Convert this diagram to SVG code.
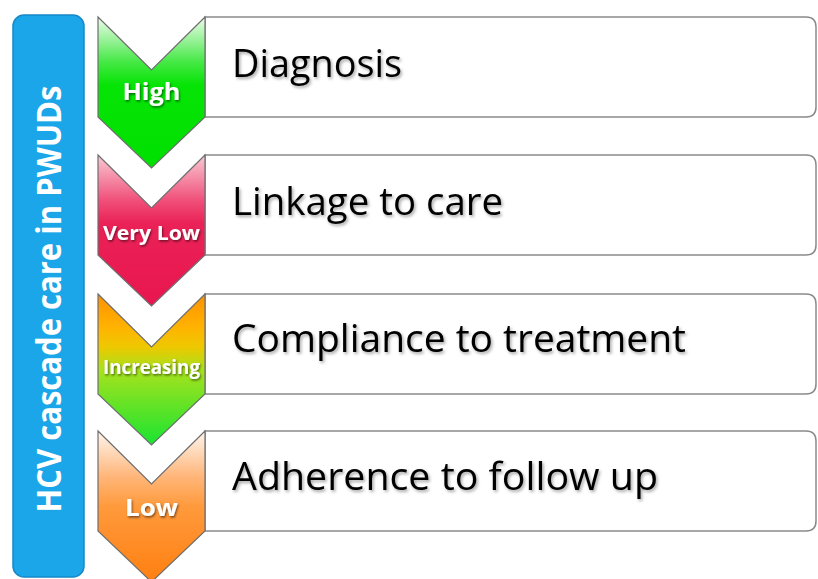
<svg xmlns="http://www.w3.org/2000/svg" width="818" height="579" viewBox="0 0 818 579">
  <defs>
    <linearGradient id="gGreen" x1="0" y1="0" x2="0" y2="1">
      <stop offset="0" stop-color="#eefcee"/>
      <stop offset="0.3" stop-color="#44e844"/>
      <stop offset="0.45" stop-color="#06e406"/>
      <stop offset="1" stop-color="#00e000"/>
    </linearGradient>
    <linearGradient id="gPink" x1="0" y1="0" x2="0" y2="1">
      <stop offset="0" stop-color="#f9cad4"/>
      <stop offset="0.3" stop-color="#f0507a"/>
      <stop offset="0.45" stop-color="#ea2257"/>
      <stop offset="1" stop-color="#e8164e"/>
    </linearGradient>
    <linearGradient id="gInc" x1="0" y1="0" x2="0" y2="1">
      <stop offset="0" stop-color="#ff9000"/>
      <stop offset="0.22" stop-color="#ffb300"/>
      <stop offset="0.35" stop-color="#eec800"/>
      <stop offset="0.5" stop-color="#a8e21c"/>
      <stop offset="1" stop-color="#18e432"/>
    </linearGradient>
    <linearGradient id="gOrange" x1="0" y1="0" x2="0" y2="1">
      <stop offset="0" stop-color="#fff6ee"/>
      <stop offset="0.3" stop-color="#ffb67a"/>
      <stop offset="0.5" stop-color="#ff9a3c"/>
      <stop offset="1" stop-color="#ff7f10"/>
    </linearGradient>
    <filter id="txtShadow" x="-10%" y="-30%" width="120%" height="160%">
      <feDropShadow dx="1.5" dy="2" stdDeviation="1.5" flood-color="#000" flood-opacity="0.35"/>
    </filter>
    <filter id="lblShadow" x="-10%" y="-30%" width="120%" height="160%">
      <feDropShadow dx="1" dy="1.5" stdDeviation="1.2" flood-color="#000" flood-opacity="0.55"/>
    </filter>
    <path id="chev" d="M98,0 L151.5,53 L205,0 L205,100 L151.5,151 L98,100 Z"/>
  </defs>
  <style>
    .box { fill: #ffffff; stroke: #8a8a8a; stroke-width: 1.5; }
    .chev { stroke: #6e6e6e; stroke-width: 1.2; stroke-linejoin: miter; }
    .step { font-family: "Open Sans", "Liberation Sans", sans-serif; font-size: 38px; fill: #000; filter: url(#txtShadow); }
    .lbl { font-family: "Open Sans", "Liberation Sans", sans-serif; font-weight: bold; fill: #fff; text-anchor: middle; filter: url(#lblShadow); }
    .side { font-family: "Open Sans", "Liberation Sans", sans-serif; font-weight: bold; font-size: 34px; fill: #fff; text-anchor: middle; }
  </style>

  <rect width="818" height="579" fill="#ffffff"/>

  <!-- vertical title bar -->
  <g id="title">
    <rect x="13" y="15" width="71" height="562" rx="11" ry="11" fill="#1aa6e8" stroke="#1689c9" stroke-width="1.5"/>
    <text class="side" transform="translate(61,299) rotate(-90)" textLength="427" lengthAdjust="spacingAndGlyphs">HCV cascade care in PWUDs</text>
  </g>

  <!-- step 1 -->
  <g id="step-diagnosis">
    <path class="box" d="M205,17 H806 Q816,17 816,27 V107 Q816,117 806,117 H205 Z"/>
    <use href="#chev" class="chev" fill="url(#gGreen)" transform="translate(0,17)"/>
    <text class="lbl" x="151.5" y="100" font-size="24" textLength="58" lengthAdjust="spacingAndGlyphs">High</text>
    <text class="step" x="232" y="77" textLength="170" lengthAdjust="spacingAndGlyphs">Diagnosis</text>
  </g>

  <!-- step 2 -->
  <g id="step-linkage">
    <path class="box" d="M205,155 H806 Q816,155 816,165 V245 Q816,255 806,255 H205 Z"/>
    <use href="#chev" class="chev" fill="url(#gPink)" transform="translate(0,155)"/>
    <text class="lbl" x="151.5" y="240" font-size="20" textLength="97" lengthAdjust="spacingAndGlyphs">Very Low</text>
    <text class="step" x="232" y="215" textLength="271" lengthAdjust="spacingAndGlyphs">Linkage to care</text>
  </g>

  <!-- step 3 -->
  <g id="step-compliance">
    <path class="box" d="M205,294 H806 Q816,294 816,304 V384 Q816,394 806,394 H205 Z"/>
    <use href="#chev" class="chev" fill="url(#gInc)" transform="translate(0,294)"/>
    <text class="lbl" x="151.5" y="374" font-size="19" textLength="97" lengthAdjust="spacingAndGlyphs">Increasing</text>
    <text class="step" x="232" y="352" textLength="454" lengthAdjust="spacingAndGlyphs">Compliance to treatment</text>
  </g>

  <!-- step 4 -->
  <g id="step-adherence">
    <path class="box" d="M205,431 H806 Q816,431 816,441 V521 Q816,531 806,531 H205 Z"/>
    <use href="#chev" class="chev" fill="url(#gOrange)" transform="translate(0,431)"/>
    <text class="lbl" x="151.5" y="516" font-size="24" textLength="53" lengthAdjust="spacingAndGlyphs">Low</text>
    <text class="step" x="232" y="490" textLength="426" lengthAdjust="spacingAndGlyphs">Adherence to follow up</text>
  </g>

  <!-- connectors: the chevrons abut directly, no separate lines -->
  <g id="connectors"></g>
</svg>
